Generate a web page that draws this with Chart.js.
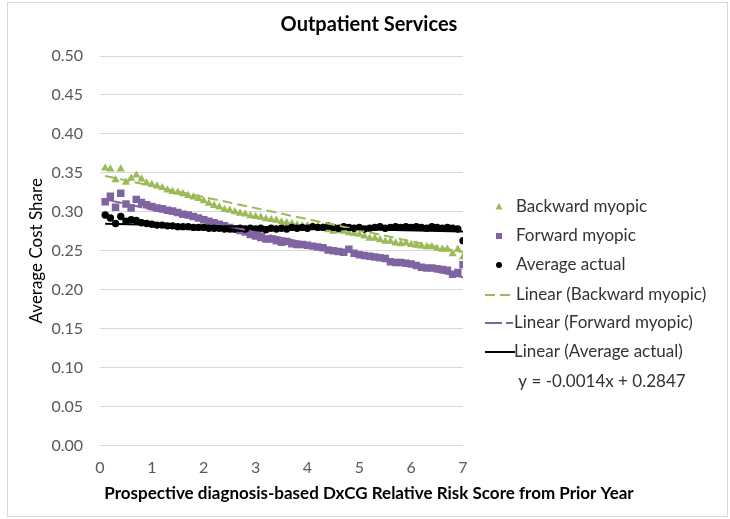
<!DOCTYPE html>
<html lang="en">
<head>
  <meta charset="UTF-8">
  <title>Outpatient Services</title>
  <script src="https://cdn.jsdelivr.net/npm/chart.js"></script>
  <style>
    html, body { margin: 0; padding: 0; background: #fff; }
  </style>
</head>
<body>
  <canvas id="costChart" width="730" height="519"></canvas>

  <script>
    // x values: risk score buckets
    const riskScores = [
      0.1, 0.2, 0.3, 0.4, 0.5, 0.6, 0.7, 0.8, 0.9, 1.0,
      1.1, 1.2, 1.3, 1.4, 1.5, 1.6, 1.7, 1.8, 1.9, 2.0,
      2.1, 2.2, 2.3, 2.4, 2.5, 2.6, 2.7, 2.8, 2.9, 3.0,
      3.1, 3.2, 3.3, 3.4, 3.5, 3.6, 3.7, 3.8, 3.9, 4.0,
      4.1, 4.2, 4.3, 4.4, 4.5, 4.6, 4.7, 4.8, 4.9, 5.0,
      5.1, 5.2, 5.3, 5.4, 5.5, 5.6, 5.7, 5.8, 5.9, 6.0,
      6.1, 6.2, 6.3, 6.4, 6.5, 6.6, 6.7, 6.8, 6.9, 7.0
    ];

    const backwardMyopic = [
      0.356, 0.355, 0.341, 0.355, 0.338, 0.343, 0.347, 0.342, 0.337, 0.335,
      0.333, 0.331, 0.328, 0.326, 0.325, 0.323, 0.321, 0.319, 0.317, 0.314,
      0.311, 0.308, 0.306, 0.303, 0.302, 0.300, 0.298, 0.297, 0.295, 0.294,
      0.293, 0.291, 0.290, 0.289, 0.287, 0.286, 0.285, 0.283, 0.282, 0.282,
      0.281, 0.281, 0.280, 0.277, 0.275, 0.276, 0.275, 0.273, 0.272, 0.271,
      0.269, 0.266, 0.266, 0.264, 0.262, 0.262, 0.260, 0.259, 0.260, 0.258,
      0.257, 0.256, 0.255, 0.255, 0.253, 0.252, 0.252, 0.246, 0.252, 0.242
    ];

    const forwardMyopic = [
      0.313, 0.320, 0.306, 0.324, 0.310, 0.305, 0.316, 0.312, 0.309, 0.307,
      0.305, 0.304, 0.302, 0.301, 0.299, 0.297, 0.296, 0.294, 0.292, 0.290,
      0.288, 0.286, 0.284, 0.282, 0.280, 0.278, 0.276, 0.274, 0.271, 0.269,
      0.267, 0.265, 0.265, 0.263, 0.261, 0.262, 0.259, 0.258, 0.258, 0.257,
      0.256, 0.255, 0.254, 0.251, 0.250, 0.249, 0.248, 0.252, 0.247, 0.245,
      0.244, 0.243, 0.242, 0.241, 0.240, 0.236, 0.235, 0.235, 0.234, 0.233,
      0.231, 0.229, 0.228, 0.228, 0.227, 0.226, 0.225, 0.220, 0.222, 0.232
    ];

    const averageActual = [
      0.296, 0.292, 0.285, 0.294, 0.288, 0.290, 0.289, 0.286, 0.285, 0.284,
      0.283, 0.283, 0.282, 0.282, 0.281, 0.281, 0.281, 0.280, 0.280, 0.280,
      0.279, 0.279, 0.279, 0.278, 0.278, 0.278, 0.279, 0.278, 0.279, 0.278,
      0.279, 0.277, 0.279, 0.278, 0.279, 0.278, 0.280, 0.279, 0.280, 0.279,
      0.281, 0.280, 0.280, 0.282, 0.280, 0.279, 0.281, 0.280, 0.279, 0.280,
      0.278, 0.279, 0.280, 0.281, 0.279, 0.280, 0.281, 0.280, 0.281, 0.280,
      0.281, 0.280, 0.279, 0.281, 0.280, 0.279, 0.280, 0.279, 0.278, 0.263
    ];

    // trendline end points
    const trendX = [0.1, 7.0];
    const trendBackward = [0.346, 0.248];
    const trendForward = [0.316, 0.216];
    const trendActual = [0.2846, 0.2749];
    const equationLabel = 'y = -0.0014x + 0.2847';

    const GREEN = '#9bbb59';
    const PURPLE = '#8064a2';
    const BLACK = '#000000';

    const toPoints = (xs, ys) => xs.map((x, i) => ({ x: x, y: ys[i] }));

    Chart.defaults.font.family = 'Lato, "Open Sans", sans-serif';

    // legend drawn by hand on the right, plus the light frame
    const sideLegend = {
      id: 'sideLegend',
      afterDraw(chart) {
        const ctx = chart.ctx;
        const rows = [207, 236, 265, 295, 323, 352];
        const lineEnds = [0, 0, 0, 510, 513, 515];
        ctx.save();

        ctx.strokeStyle = '#d9d9d9';
        ctx.lineWidth = 1;
        ctx.strokeRect(7.5, 2.5, 720, 514);

        ctx.font = '17px Lato';
        ctx.textBaseline = 'middle';
        ctx.textAlign = 'left';
        chart.data.datasets.forEach((ds, i) => {
          const y = rows[i];
          if (ds.showLine) {
            ctx.strokeStyle = ds.borderColor;
            ctx.lineWidth = 2;
            ctx.setLineDash(ds.borderDash || []);
            ctx.beginPath();
            ctx.moveTo(485, y);
            ctx.lineTo(lineEnds[i], y);
            ctx.stroke();
            ctx.setLineDash([]);
          } else {
            ctx.fillStyle = ds.backgroundColor;
            ctx.beginPath();
            if (ds.pointStyle === 'triangle') {
              ctx.moveTo(499, y - 4);
              ctx.lineTo(502.5, y + 2.5);
              ctx.lineTo(495.5, y + 2.5);
              ctx.closePath();
            } else if (ds.pointStyle === 'rect') {
              ctx.rect(496, y - 3, 6, 6);
            } else {
              ctx.arc(499, y, 3, 0, Math.PI * 2);
            }
            ctx.fill();
          }
          ctx.fillStyle = '#333333';
          ctx.fillText(ds.label, i >= 4 ? 514 : 516, y);
        });

        ctx.textAlign = 'center';
        ctx.fillText(equationLabel, 602, 382);
        ctx.restore();
      }
    };

    new Chart(document.getElementById('costChart'), {
      type: 'scatter',
      data: {
        datasets: [
          {
            label: 'Backward myopic',
            data: toPoints(riskScores, backwardMyopic),
            pointStyle: 'triangle',
            pointRadius: 4.8,
            pointBorderWidth: 0,
            backgroundColor: GREEN,
            borderColor: GREEN,
            showLine: false,
            order: 6
          },
          {
            label: 'Forward myopic',
            data: toPoints(riskScores, forwardMyopic),
            pointStyle: 'rect',
            pointRadius: 5.3,
            pointBorderWidth: 0,
            backgroundColor: PURPLE,
            borderColor: PURPLE,
            showLine: false,
            order: 5
          },
          {
            label: 'Average actual',
            data: toPoints(riskScores, averageActual),
            pointStyle: 'circle',
            pointRadius: 3.7,
            pointBorderWidth: 0,
            backgroundColor: BLACK,
            borderColor: BLACK,
            showLine: false,
            order: 4
          },
          {
            label: 'Linear (Backward myopic)',
            data: toPoints(trendX, trendBackward),
            showLine: true,
            pointRadius: 0,
            borderColor: GREEN,
            backgroundColor: GREEN,
            borderWidth: 2,
            borderDash: [10, 5],
            order: 3
          },
          {
            label: 'Linear (Forward myopic)',
            data: toPoints(trendX, trendForward),
            showLine: true,
            pointRadius: 0,
            borderColor: PURPLE,
            backgroundColor: PURPLE,
            borderWidth: 2,
            borderDash: [17, 4],
            order: 2
          },
          {
            label: 'Linear (Average actual)',
            data: toPoints(trendX, trendActual),
            showLine: true,
            pointRadius: 0,
            borderColor: BLACK,
            backgroundColor: BLACK,
            borderWidth: 2,
            order: 1
          }
        ]
      },
      options: {
        responsive: false,
        animation: false,
        devicePixelRatio: 1,
        layout: { padding: { left: 18, right: 10, top: 13, bottom: 6 } },
        plugins: {
          legend: { display: false },
          tooltip: { enabled: false },
          title: {
            display: true,
            text: 'Outpatient Services',
            color: '#000',
            font: { size: 20, weight: 'bold' },
            padding: { top: 0, bottom: 19 }
          },
          subtitle: {
            display: true,
            position: 'bottom',
            text: 'Prospective diagnosis-based DxCG Relative Risk Score from Prior Year',
            color: '#000',
            font: { size: 17, weight: 'bold' },
            padding: { top: 0, bottom: 9 }
          }
        },
        scales: {
          x: {
            type: 'linear',
            min: 0,
            max: 7,
            grid: { display: false, drawTicks: false },
            border: { display: false },
            ticks: { stepSize: 1, color: '#595959', font: { size: 16 }, padding: 13 },
            afterFit(scale) { scale.height = 38; }
          },
          y: {
            min: 0,
            max: 0.5,
            grid: { color: '#d9d9d9', drawTicks: false },
            border: { display: false },
            ticks: {
              stepSize: 0.05,
              color: '#595959',
              font: { size: 16 },
              padding: 17,
              callback: v => v.toFixed(2)
            },
            title: {
              display: true,
              text: 'Average Cost Share',
              color: '#000',
              font: { size: 17 },
              padding: { top: 8, bottom: 0 }
            },
            afterFit(scale) { scale.width = 82; }
          },
          // empty right-hand axis only keeps room for the legend
          spacer: {
            position: 'right',
            display: true,
            grid: { display: false, drawTicks: false },
            border: { display: false },
            ticks: { display: false },
            afterFit(scale) { scale.width = 257; }
          }
        }
      },
      plugins: [sideLegend]
    });
  </script>
</body>
</html>
